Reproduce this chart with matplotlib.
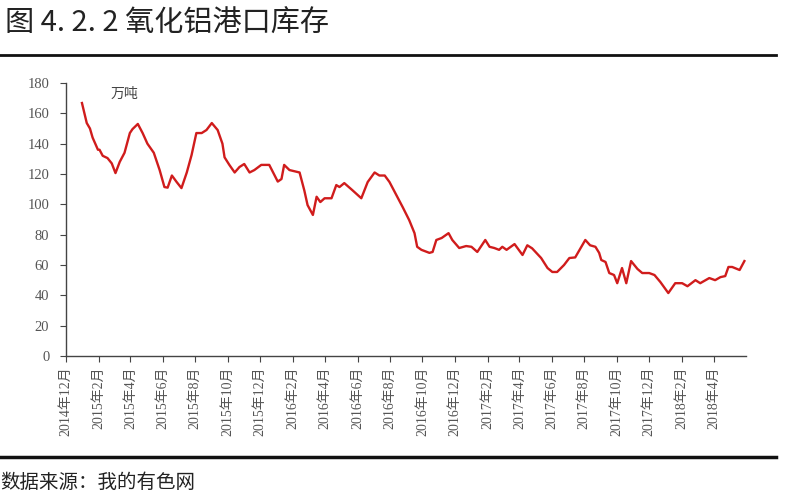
import matplotlib
matplotlib.use("Agg")
import matplotlib.pyplot as plt
import pandas as pd

# weekly-ish readings of port stock (万吨)
dates = ["2014-12-31", "2015-01-09", "2015-01-15", "2015-01-20", "2015-01-30", "2015-02-02",
         "2015-02-08", "2015-02-17", "2015-02-25", "2015-03-04", "2015-03-12", "2015-03-21",
         "2015-03-31", "2015-04-05", "2015-04-15", "2015-04-24", "2015-05-03", "2015-05-15",
         "2015-05-26", "2015-06-04", "2015-06-10", "2015-06-18", "2015-06-27", "2015-07-06",
         "2015-07-16", "2015-07-25", "2015-08-03", "2015-08-13", "2015-08-22", "2015-09-01",
         "2015-09-12", "2015-09-21", "2015-09-25", "2015-10-04", "2015-10-14", "2015-10-23",
         "2015-11-01", "2015-11-11", "2015-11-20", "2015-12-03", "2015-12-18", "2016-01-03",
         "2016-01-10", "2016-01-15", "2016-01-25", "2016-02-13", "2016-02-22", "2016-02-28",
         "2016-03-09", "2016-03-16", "2016-03-23", "2016-03-31", "2016-04-13", "2016-04-22",
         "2016-04-28", "2016-05-07", "2016-05-22", "2016-06-08", "2016-06-20", "2016-07-03",
         "2016-07-12", "2016-07-22", "2016-07-31", "2016-08-13", "2016-08-25", "2016-09-03",
         "2016-09-06", "2016-09-16", "2016-09-21", "2016-09-29", "2016-10-14", "2016-10-20",
         "2016-10-27", "2016-11-06", "2016-11-19", "2016-11-26", "2016-12-09", "2016-12-22",
         "2017-01-01", "2017-01-12", "2017-01-27", "2017-02-04", "2017-02-13", "2017-02-22",
         "2017-02-28", "2017-03-08", "2017-03-23", "2017-04-07", "2017-04-16", "2017-04-25",
         "2017-05-12", "2017-05-24", "2017-06-02", "2017-06-11", "2017-06-24", "2017-07-04",
         "2017-07-15", "2017-07-25", "2017-08-03", "2017-08-12", "2017-08-22", "2017-08-29",
         "2017-09-02", "2017-09-10", "2017-09-17", "2017-09-26", "2017-10-02", "2017-10-11",
         "2017-10-19", "2017-10-28", "2017-11-09", "2017-11-18", "2017-12-01", "2017-12-11",
         "2017-12-22", "2018-01-06", "2018-01-19", "2018-02-01", "2018-02-11", "2018-02-26",
         "2018-03-07", "2018-03-24", "2018-04-04", "2018-04-14", "2018-04-23", "2018-04-29",
         "2018-05-06", "2018-05-20", "2018-05-29"]
stock = [166.8, 153.6, 150.0, 144.0, 136.0, 136.0,
         132.0, 130.5, 127.0, 120.6, 128.0, 134.0,
         147.0, 149.6, 153.0, 147.0, 140.0, 134.0,
         122.6, 111.4, 111.0, 119.0, 114.7, 110.7,
         121.0, 132.5, 147.0, 147.0, 149.0, 153.6,
         149.0, 140.0, 131.0, 126.0, 121.0, 124.6,
         126.6, 121.0, 122.6, 126.0, 126.0, 115.0,
         116.7, 126.0, 122.6, 121.0, 109.0, 99.5,
         93.0, 105.0, 101.5, 104.0, 104.0, 112.7,
         111.4, 114.0, 109.4, 104.0, 114.7, 121.0,
         119.0, 119.0, 114.7, 106.0, 98.0, 91.6,
         89.6, 81.0, 72.0, 70.0, 68.0, 68.6,
         76.5, 77.8, 81.0, 76.5, 71.2, 72.5,
         72.0, 68.6, 76.5, 72.0, 71.2, 70.0,
         72.0, 70.0, 73.8, 66.6, 73.0, 71.0,
         64.6, 58.0, 55.4, 55.4, 60.0, 64.6,
         65.0, 71.0, 76.5, 73.0, 72.0, 68.0,
         63.3, 62.0, 54.7, 53.4, 48.0, 58.0,
         48.0, 62.6, 57.4, 54.7, 54.7, 53.4,
         48.8, 41.5, 48.0, 48.0, 46.0, 50.0,
         48.0, 51.4, 50.0, 52.0, 52.7, 58.7,
         58.7, 56.7, 62.6]

title = "图 4. 2. 2 氧化铝港口库存"
unit = "万吨"
source = "数据来源：我的有色网"

x = pd.to_datetime(dates)
cjk = ["Noto Sans CJK SC", "DejaVu Sans"]
serif = ["Liberation Serif", "Noto Sans CJK SC"]

fig = plt.figure(figsize=(8, 5), dpi=100)
ax = fig.add_axes([0.0825, 0.288, 0.85, 0.546])
ax.plot(x, stock, color="#d01c1c", linewidth=1.7)

ax.set_ylim(0, 180)
ax.set_yticks(range(0, 181, 20))
ax.set_xlim(pd.Timestamp("2014-12-01"), pd.Timestamp("2018-06-01"))
ticks = pd.date_range("2014-12-01", "2018-04-01", freq="2MS")
ax.set_xticks(ticks)
ax.set_xticklabels([f"{t.year}年{t.month}月" for t in ticks], rotation=90,
                   family=serif, fontsize=10, color="#555555")
for lab in ax.get_yticklabels():
    lab.set_family(serif)
    lab.set_fontsize(10.5)
    lab.set_color("#555555")

for s in ["top", "right"]:
    ax.spines[s].set_visible(False)
for s in ["left", "bottom"]:
    ax.spines[s].set_color("#444444")
    ax.spines[s].set_linewidth(1.0)
ax.tick_params(axis="both", direction="out", length=4, color="#444444")
ax.tick_params(axis="y", pad=8)

ax.text(0.065, 0.96, unit, transform=ax.transAxes, family=cjk, fontsize=10,
        color="#444444", va="center")

fig.text(0.006, 0.953, title, family=cjk, fontsize=21, color="#222222", va="center")
fig.add_artist(plt.Line2D([0, 0.97], [0.89, 0.89], transform=fig.transFigure,
                          color="#111111", linewidth=2))
fig.add_artist(plt.Line2D([0, 0.97], [0.086, 0.086], transform=fig.transFigure,
                          color="#111111", linewidth=2.5))
fig.text(0.0, 0.036, source, family=cjk, fontsize=14, color="#222222", va="center")

fig.savefig("out.png", dpi=100, facecolor="white")
